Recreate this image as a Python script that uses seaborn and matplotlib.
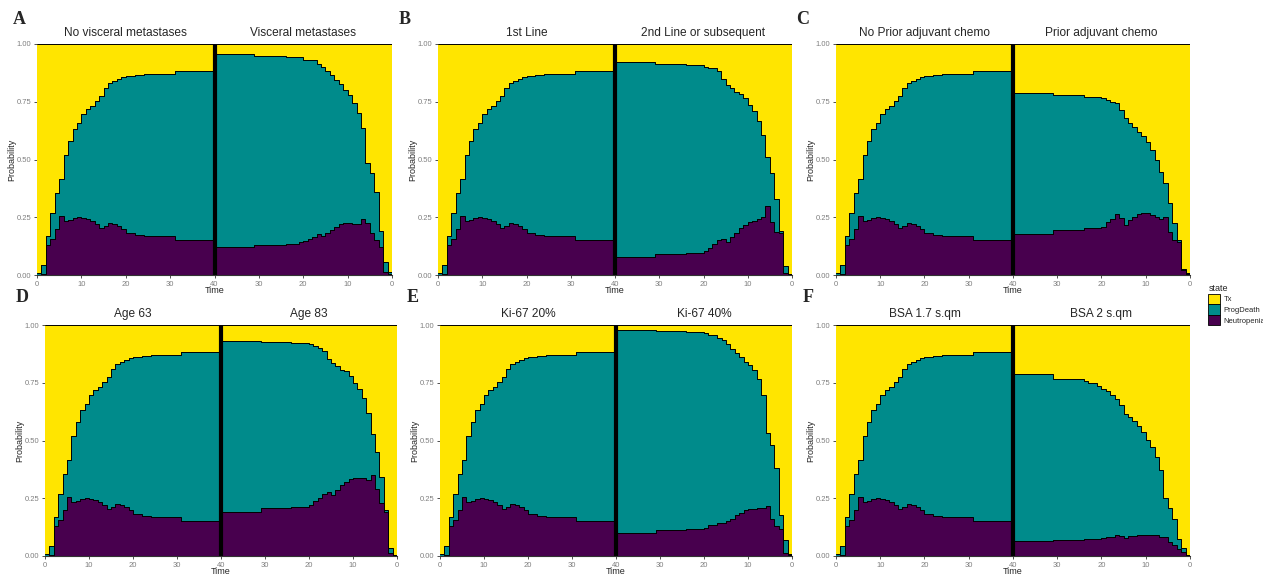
import numpy as np
import pandas as pd
import matplotlib.pyplot as plt
from matplotlib.patches import Patch
import seaborn as sns

# state probabilities per unit time interval [t, t+1), t = 0..39
# "top" = Neutropenia + ProgDeath (cumulative), rest up to 1 is Tx

# reference profile, shown on the left half of every panel
ref_neut = [0.002, 0.005, 0.128, 0.157, 0.199, 0.255, 0.232, 0.239, 0.246, 0.250,
            0.246, 0.243, 0.234, 0.222, 0.203, 0.210, 0.227, 0.222, 0.210, 0.199,
            0.181, 0.181, 0.174, 0.174, 0.167, 0.167, 0.167, 0.167, 0.167, 0.167,
            0.167, 0.153, 0.153, 0.153, 0.153, 0.153, 0.153, 0.153, 0.153, 0.153]
ref_top = [0.010, 0.042, 0.168, 0.270, 0.357, 0.415, 0.520, 0.580, 0.630, 0.656,
           0.695, 0.717, 0.730, 0.754, 0.774, 0.810, 0.830, 0.840, 0.849, 0.855,
           0.860, 0.860, 0.865, 0.865, 0.869, 0.869, 0.869, 0.869, 0.869, 0.869,
           0.869, 0.882, 0.882, 0.882, 0.882, 0.882, 0.882, 0.882, 0.882, 0.882]

# A - visceral metastases
a_neut = [0.003, 0.015, 0.123, 0.152, 0.180, 0.225, 0.241, 0.220, 0.222, 0.224,
          0.224, 0.219, 0.209, 0.195, 0.180, 0.169, 0.178, 0.165, 0.154, 0.148,
          0.144, 0.134, 0.134, 0.134, 0.130, 0.130, 0.130, 0.130, 0.130, 0.130,
          0.130, 0.120, 0.120, 0.120, 0.120, 0.120, 0.120, 0.120, 0.120, 0.120]
a_top = [0.012, 0.058, 0.190, 0.360, 0.440, 0.485, 0.637, 0.700, 0.745, 0.778,
         0.800, 0.825, 0.845, 0.865, 0.885, 0.900, 0.915, 0.930, 0.930, 0.930,
         0.942, 0.942, 0.942, 0.942, 0.948, 0.948, 0.948, 0.948, 0.948, 0.948,
         0.948, 0.956, 0.956, 0.956, 0.956, 0.956, 0.956, 0.956, 0.956, 0.956]

# B - 2nd line or subsequent
b_neut = [0.003, 0.010, 0.180, 0.188, 0.231, 0.300, 0.252, 0.241, 0.235, 0.231,
          0.216, 0.202, 0.183, 0.166, 0.144, 0.156, 0.150, 0.134, 0.115, 0.105,
          0.097, 0.097, 0.097, 0.097, 0.091, 0.091, 0.091, 0.091, 0.091, 0.091,
          0.091, 0.076, 0.076, 0.076, 0.076, 0.076, 0.076, 0.076, 0.076, 0.076]
b_top = [0.005, 0.040, 0.190, 0.330, 0.440, 0.512, 0.606, 0.668, 0.711, 0.736,
         0.765, 0.782, 0.794, 0.808, 0.822, 0.850, 0.885, 0.895, 0.895, 0.900,
         0.909, 0.909, 0.909, 0.909, 0.913, 0.913, 0.913, 0.913, 0.913, 0.913,
         0.913, 0.920, 0.920, 0.920, 0.920, 0.920, 0.920, 0.920, 0.920, 0.920]

# C - prior adjuvant chemo
c_neut = [0.005, 0.022, 0.144, 0.152, 0.188, 0.250, 0.241, 0.252, 0.260, 0.267,
          0.267, 0.264, 0.252, 0.238, 0.216, 0.245, 0.264, 0.241, 0.231, 0.209,
          0.202, 0.202, 0.202, 0.202, 0.195, 0.195, 0.195, 0.195, 0.195, 0.195,
          0.195, 0.177, 0.177, 0.177, 0.177, 0.177, 0.177, 0.177, 0.177, 0.177]
c_top = [0.007, 0.026, 0.152, 0.227, 0.310, 0.397, 0.447, 0.500, 0.541, 0.577,
         0.600, 0.620, 0.639, 0.657, 0.678, 0.714, 0.743, 0.750, 0.758, 0.765,
         0.772, 0.772, 0.772, 0.772, 0.779, 0.779, 0.779, 0.779, 0.779, 0.779,
         0.779, 0.789, 0.789, 0.789, 0.789, 0.789, 0.789, 0.789, 0.789, 0.789]

# D - age 83
d_neut = [0.003, 0.015, 0.190, 0.230, 0.290, 0.350, 0.330, 0.339, 0.339, 0.336,
          0.332, 0.322, 0.307, 0.286, 0.264, 0.278, 0.267, 0.249, 0.238, 0.220,
          0.213, 0.213, 0.213, 0.213, 0.206, 0.206, 0.206, 0.206, 0.206, 0.206,
          0.206, 0.191, 0.191, 0.191, 0.191, 0.191, 0.191, 0.191, 0.191, 0.191]
d_top = [0.005, 0.035, 0.199, 0.343, 0.452, 0.528, 0.619, 0.684, 0.725, 0.749,
         0.778, 0.800, 0.807, 0.822, 0.836, 0.851, 0.887, 0.899, 0.909, 0.916,
         0.922, 0.922, 0.922, 0.922, 0.926, 0.926, 0.926, 0.926, 0.926, 0.926,
         0.926, 0.930, 0.930, 0.930, 0.930, 0.930, 0.930, 0.930, 0.930, 0.930]

# E - Ki-67 40%
e_neut = [0.003, 0.015, 0.119, 0.130, 0.162, 0.215, 0.209, 0.206, 0.203, 0.203,
          0.199, 0.188, 0.177, 0.162, 0.151, 0.145, 0.145, 0.133, 0.133, 0.123,
          0.119, 0.119, 0.119, 0.119, 0.112, 0.112, 0.112, 0.112, 0.112, 0.112,
          0.112, 0.100, 0.100, 0.100, 0.100, 0.100, 0.100, 0.100, 0.100, 0.100]
e_top = [0.010, 0.068, 0.177, 0.380, 0.481, 0.532, 0.699, 0.767, 0.807, 0.829,
         0.841, 0.861, 0.880, 0.894, 0.916, 0.933, 0.945, 0.957, 0.957, 0.964,
         0.970, 0.970, 0.970, 0.970, 0.974, 0.974, 0.974, 0.974, 0.974, 0.974,
         0.974, 0.978, 0.978, 0.978, 0.978, 0.978, 0.978, 0.978, 0.978, 0.978]

# F - BSA 2 s.qm
f_neut = [0.003, 0.017, 0.032, 0.046, 0.061, 0.083, 0.083, 0.090, 0.093, 0.093,
          0.093, 0.093, 0.087, 0.087, 0.080, 0.087, 0.090, 0.083, 0.083, 0.078,
          0.072, 0.072, 0.072, 0.072, 0.068, 0.068, 0.068, 0.068, 0.068, 0.068,
          0.068, 0.064, 0.064, 0.064, 0.064, 0.064, 0.064, 0.064, 0.064, 0.064]
f_top = [0.005, 0.035, 0.075, 0.162, 0.206, 0.249, 0.372, 0.430, 0.474, 0.503,
         0.536, 0.561, 0.583, 0.600, 0.614, 0.652, 0.681, 0.696, 0.713, 0.725,
         0.735, 0.749, 0.749, 0.759, 0.768, 0.768, 0.768, 0.768, 0.768, 0.768,
         0.768, 0.788, 0.788, 0.788, 0.788, 0.788, 0.788, 0.788, 0.788, 0.788]

letters = ["A", "B", "C", "D", "E", "F"]
left_titles = ["No visceral metastases", "1st Line", "No Prior adjuvant chemo",
               "Age 63", "Ki-67 20%", "BSA 1.7 s.qm"]
right_titles = ["Visceral metastases", "2nd Line or subsequent", "Prior adjuvant chemo",
                "Age 83", "Ki-67 40%", "BSA 2 s.qm"]
right_neut = [a_neut, b_neut, c_neut, d_neut, e_neut, f_neut]
right_top = [a_top, b_top, c_top, d_top, e_top, f_top]

states = ["Tx", "ProgDeath", "Neutropenia"]
colors = {"Tx": "#FFE500", "ProgDeath": "#008B8B", "Neutropenia": "#48004E"}

sns.set_theme(style="white")
plt.rcParams["font.family"] = ["Liberation Sans", "DejaVu Sans"]

W, H = 1263, 576
fig = plt.figure(figsize=(W / 100, H / 100), dpi=100)

# axes boxes in pixels: (left, right, top, bottom)
boxes = [(37, 392, 44, 275), (438, 792, 44, 275), (836, 1190, 44, 275),
         (45, 397, 325, 556), (440, 792, 325, 556), (836, 1190, 325, 556)]
letter_pos = [(19, 20), (405, 20), (803, 20), (22, 298), (413, 298), (808, 298)]


def mirror(left, right):
    # left half runs 0 -> 40, right half runs 40 -> 0
    v = list(left) + list(right)[::-1]
    return np.array(v + [v[-1]])


x = np.arange(81)
for k in range(6):
    l, r, t, b = boxes[k]
    ax = fig.add_axes([l / W, 1 - b / H, (r - l) / W, (b - t) / H])
    neut = mirror(ref_neut, right_neut[k])
    top = mirror(ref_top, right_top[k])
    ones = np.ones_like(top)

    ax.fill_between(x, 0, neut, step="post", color=colors["Neutropenia"], lw=0)
    ax.fill_between(x, neut, top, step="post", color=colors["ProgDeath"], lw=0)
    ax.fill_between(x, top, ones, step="post", color=colors["Tx"], lw=0)

    lines = pd.DataFrame({
        "x": np.concatenate([x, x, x]),
        "y": np.concatenate([neut, top, ones]),
        "state": ["Neutropenia"] * 81 + ["ProgDeath"] * 81 + ["Tx"] * 81,
    })
    sns.lineplot(data=lines, x="x", y="y", units="state", estimator=None,
                 color="black", lw=0.7, drawstyle="steps-post", ax=ax, legend=False)
    ax.axvline(40, color="black", lw=3)

    ax.set_xlim(0, 80)
    ax.set_ylim(0, 1)
    ax.set_xticks(range(0, 81, 10))
    ax.set_xticklabels(["0", "10", "20", "30", "40", "30", "20", "10", "0"])
    ax.set_yticks([0, 0.25, 0.5, 0.75, 1])
    ax.set_yticklabels(["0.00", "0.25", "0.50", "0.75", "1.00"])
    ax.tick_params(axis="both", labelsize=5.5, labelcolor="#7F7F7F", length=2.5,
                   width=0.6, color="#333333", pad=1.5, bottom=True, left=True)
    for s in ["top", "right", "left"]:
        ax.spines[s].set_visible(False)
    ax.spines["bottom"].set_color("#333333")
    ax.spines["bottom"].set_linewidth(0.8)
    ax.set_xlabel("Time", fontsize=6.5, labelpad=-1)
    ax.set_ylabel("Probability", fontsize=6.5, labelpad=0)

    ax.text(20, 1.048, left_titles[k], ha="center", va="center", fontsize=8.6)
    ax.text(60, 1.048, right_titles[k], ha="center", va="center", fontsize=8.6)

    lx, ly = letter_pos[k]
    fig.text(lx / W, 1 - ly / H, letters[k], ha="center", va="center",
             fontsize=13, fontweight="bold", family=["Liberation Serif", "DejaVu Serif"])

handles = [Patch(facecolor=colors[s], edgecolor="black", lw=0.6, label=s) for s in states]
fig.legend(handles=handles, title="state", loc="upper left",
           bbox_to_anchor=(1203 / W, 1 - 279 / H), frameon=False, fontsize=5.5,
           title_fontsize=6.5, handlelength=1.5, handleheight=1.7, labelspacing=0.05,
           handletextpad=0.5, alignment="left", borderpad=0.2)

fig.savefig("out.png", dpi=100)
